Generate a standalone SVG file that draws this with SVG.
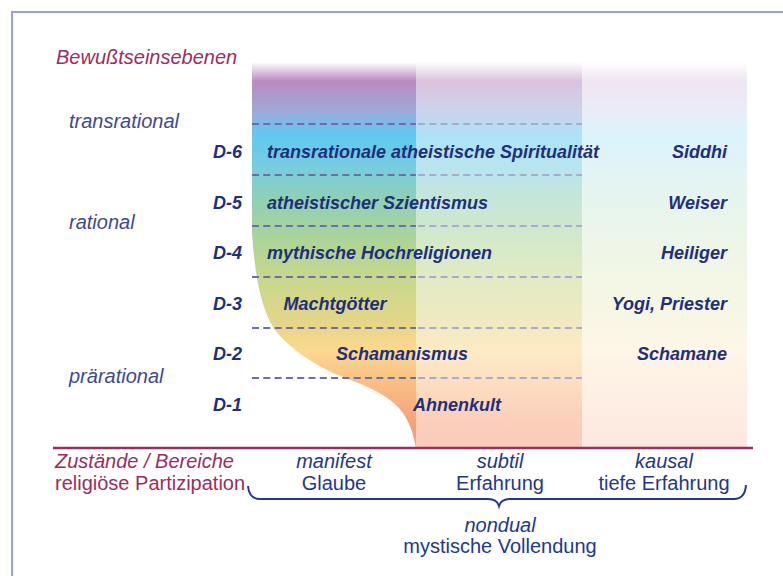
<svg xmlns="http://www.w3.org/2000/svg" width="783" height="576" viewBox="0 0 783 576">
<defs>
<linearGradient id="spec" gradientUnits="userSpaceOnUse" x1="0" y1="62" x2="0" y2="448">
<stop offset="0" stop-color="#ffffff"/>
<stop offset="0.05" stop-color="#b98ac0"/>
<stop offset="0.124" stop-color="#a0a8d8"/>
<stop offset="0.189" stop-color="#60c8f2"/>
<stop offset="0.267" stop-color="#76cce0"/>
<stop offset="0.358" stop-color="#90d0b4"/>
<stop offset="0.461" stop-color="#acd498"/>
<stop offset="0.565" stop-color="#c8d88c"/>
<stop offset="0.668" stop-color="#e2d688"/>
<stop offset="0.746" stop-color="#fcd890"/>
<stop offset="0.837" stop-color="#f9bd84"/>
<stop offset="0.927" stop-color="#f6a47c"/>
<stop offset="1" stop-color="#f59a78"/>
</linearGradient>
<style>
.b{font-family:"Liberation Sans",Arial,sans-serif;font-weight:bold;font-style:italic;font-size:18px;fill:#1f2f7a}
.l{font-family:"Liberation Sans",Arial,sans-serif;font-style:italic;font-size:20px;fill:#3e4a8e}
.m{font-family:"Liberation Sans",Arial,sans-serif;font-size:20px;fill:#9b2d5f}
.t{font-family:"Liberation Sans",Arial,sans-serif;font-size:20px;fill:#23388a;text-anchor:middle}
.i{font-style:italic}
.e{text-anchor:end}
.dk{stroke:#6d6ea8;stroke-width:2;stroke-dasharray:7 4.3;fill:none}
.lt{stroke:#aaaad0;stroke-width:2;stroke-dasharray:7 4.3;fill:none}
</style>
</defs>
<rect x="12" y="12" width="800" height="600" fill="#ffffff" stroke="#9ca2cf" stroke-width="2"/>
<g id="fields">
<rect x="582" y="62" width="165" height="386" fill="url(#spec)" opacity="0.22"/>
<rect x="416" y="62" width="166" height="386" fill="url(#spec)" opacity="0.52"/>
<path d="M252,62 L416,62 L416,448 C412,425 404,410 390,400 C375,388 350,380 333,373 C310,362 285,345 273,327 C262,308 255,280 252,232 Z" fill="url(#spec)"/>
</g>
<g id="grid">
<path class="dk" d="M252,124H416M252,175H416M252,226H416M252,277H416M252,328H416M252,378H416"/>
<path class="lt" d="M418,124H582M418,175H582M418,226H582M418,277H582M418,328H582M418,378H582"/>
</g>
<g id="connectors">
<line x1="53" y1="448" x2="753" y2="448" stroke="#9b2d5f" stroke-width="2.5"/>
<path d="M248,486 Q249,499 260,499 L488,499 Q497,499 499,506 Q501,499 510,499 L734,499 Q745,499 746,485" fill="none" stroke="#23388a" stroke-width="2"/>
</g>
<g id="title"><text class="m i" x="56" y="64">Bewußtseinsebenen</text></g>
<g id="tiers">
<text class="l" x="69" y="128">transrational</text>
<text class="l" x="69" y="229">rational</text>
<text class="l" x="69" y="383">prärational</text>
</g>
<g id="D6"><text class="b e" x="242" y="158">D-6</text><text class="b" x="267" y="158">transrationale atheistische Spiritualität</text><text class="b e" x="727" y="158">Siddhi</text></g>
<g id="D5"><text class="b e" x="242" y="209">D-5</text><text class="b" x="267" y="209">atheistischer Szientismus</text><text class="b e" x="727" y="209">Weiser</text></g>
<g id="D4"><text class="b e" x="242" y="259">D-4</text><text class="b" x="267" y="259">mythische Hochreligionen</text><text class="b e" x="727" y="259">Heiliger</text></g>
<g id="D3"><text class="b e" x="242" y="310">D-3</text><text class="b" x="335" y="310" text-anchor="middle">Machtgötter</text><text class="b e" x="727" y="310">Yogi, Priester</text></g>
<g id="D2"><text class="b e" x="242" y="360">D-2</text><text class="b" x="336" y="360">Schamanismus</text><text class="b e" x="727" y="360">Schamane</text></g>
<g id="D1"><text class="b e" x="242" y="411">D-1</text><text class="b" x="413" y="411">Ahnenkult</text></g>
<g id="axis">
<text class="m i" x="55" y="468">Zustände / Bereiche</text>
<text class="m" x="55" y="490">religiöse Partizipation</text>
</g>
<g id="manifest"><text class="t i" x="334" y="468">manifest</text><text class="t" x="334" y="490">Glaube</text></g>
<g id="subtil"><text class="t i" x="500" y="468">subtil</text><text class="t" x="500" y="490">Erfahrung</text></g>
<g id="kausal"><text class="t i" x="664" y="468">kausal</text><text class="t" x="664" y="490">tiefe Erfahrung</text></g>
<g id="nondual"><text class="t i" x="500" y="532">nondual</text><text class="t" x="500" y="553">mystische Vollendung</text></g>
</svg>
